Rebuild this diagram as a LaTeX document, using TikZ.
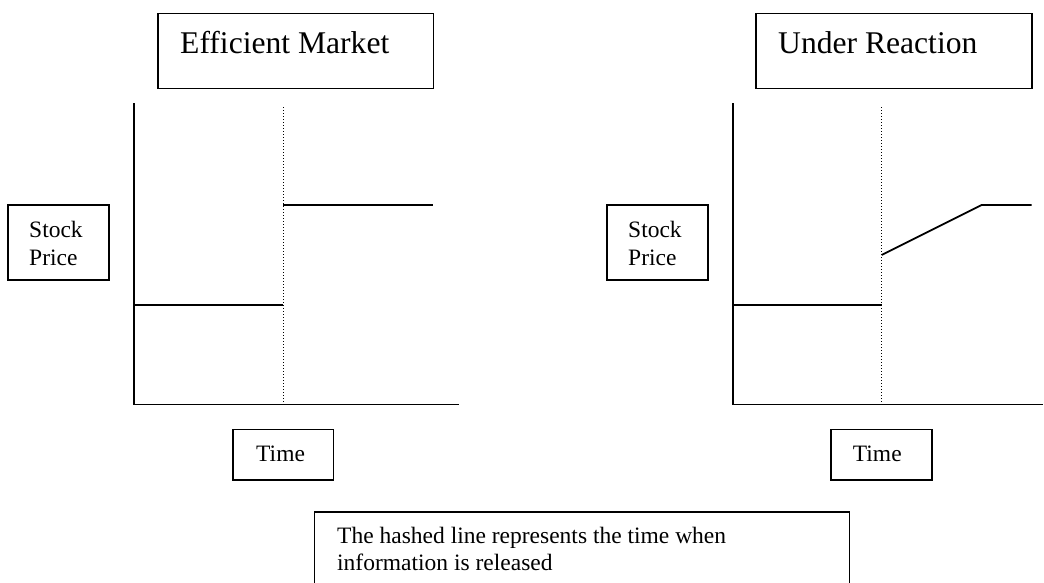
\documentclass[tikz,border=0pt]{standalone}
\usepackage{fontspec}
\setmainfont{Liberation Serif}
\begin{document}
\begin{tikzpicture}[x=1pt,y=-1pt,
  frame/.style={draw, line width=1.6pt, inner sep=0pt, outer sep=0pt},
  axis/.style={line width=1.8pt, line join=miter},
  info/.style={line width=1pt, dash pattern=on 1pt off 2pt},
  price/.style={line width=1.8pt},
  body/.style={anchor=base west, inner sep=0pt, font=\fontsize{23.5}{27}\selectfont},
  head/.style={anchor=base west, inner sep=0pt, font=\fontsize{31.6}{36}\selectfont}]
\useasboundingbox (0,0) rectangle (1044,582);

% titles
\node[frame, minimum width=275.6pt, minimum height=75pt] (effBox) at (295.5,50.8) {};
\node[head] (effText) at (180,53.3) {Efficient Market};
\node[frame, minimum width=275.7pt, minimum height=75pt] (urBox) at (893.85,50.8) {};
\node[head] (urText) at (778,53.3) {Under Reaction};

% axis labels
\node[frame, minimum width=101pt, minimum height=75pt] (spL) at (58.5,242.5) {};
\node[body] (spL1) at (29,237.7) {Stock};
\node[body] (spL2) at (29,265) {Price};
\node[frame, minimum width=100.7pt, minimum height=75pt] (spR) at (657.35,242.5) {};
\node[body] (spR1) at (628,237.7) {Stock};
\node[body] (spR2) at (628,265) {Price};

\node[frame, minimum width=100.6pt, minimum height=50.7pt] (tL) at (283,454.65) {};
\node[body] (tL1) at (256,461.7) {Time};
\node[frame, minimum width=101pt, minimum height=50.7pt] (tR) at (881.5,454.65) {};
\node[body] (tR1) at (852.7,461.7) {Time};

% left graph: efficient market
\coordinate (La) at (134,103);
\coordinate (Lo) at (134,404.5);
\coordinate (Lx) at (459,404.5);
\coordinate (Lit) at (283.3,107);
\coordinate (Lib) at (283.3,404.5);
\coordinate (Lp1) at (134,305);
\coordinate (Lp2) at (283.3,305);
\coordinate (Lp3) at (283.3,205);
\coordinate (Lp4) at (433,205);
\draw[info] (Lit) -- (Lib);
\draw[axis] (La) -- (Lo) -- (Lx);
\draw[price] (Lp1) -- (Lp2);
\draw[price] (Lp3) -- (Lp4);

% right graph: under reaction
\coordinate (Ra) at (732.7,103);
\coordinate (Ro) at (732.7,404.5);
\coordinate (Rx) at (1043,404.5);
\coordinate (Rit) at (881.7,107);
\coordinate (Rib) at (881.7,404.5);
\coordinate (Rp1) at (732.7,305);
\coordinate (Rp2) at (881.7,305);
\coordinate (Rp3) at (881.7,255);
\coordinate (Rp4) at (981.7,205);
\coordinate (Rp5) at (1031.7,205);
\draw[info] (Rit) -- (Rib);
\draw[axis] (Ra) -- (Ro) -- (Rx);
\draw[price] (Rp1) -- (Rp2);
\draw[price] (Rp3) -- (Rp4) -- (Rp5);

% note
\node[frame, minimum width=535pt, minimum height=90pt] (note) at (582,557) {};
\node[body] (note1) at (337,543) {The hashed line represents the time when};
\node[body] (note2) at (337,570) {information is released};
\end{tikzpicture}
\end{document}
